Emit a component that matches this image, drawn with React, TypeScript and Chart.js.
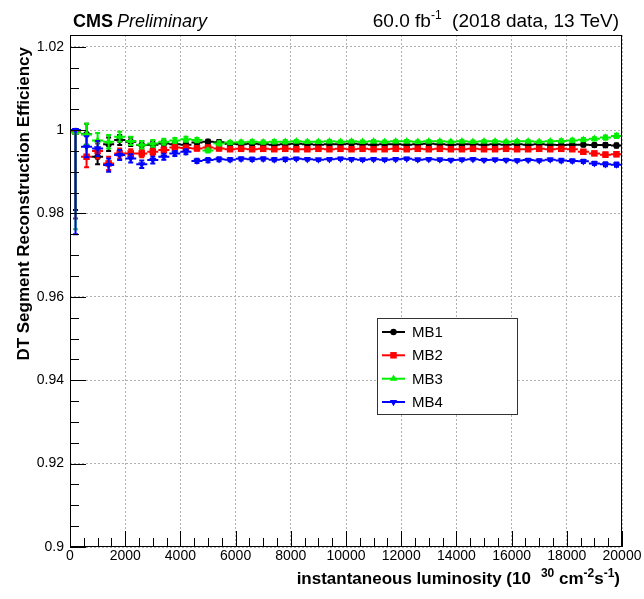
import React, { useEffect, useRef } from 'react';
import { Chart, registerables } from 'chart.js';

Chart.register(...registerables);

const FONT = '"Liberation Sans", Arial, Helvetica, sans-serif';

// Bin centres of instantaneous luminosity (10^30 cm^-2 s^-1)
const lumi = [
  200, 600, 1000, 1400, 1800, 2200, 2600, 3000, 3400, 3800,
  4200, 4600, 5000, 5400, 5800, 6200, 6600, 7000, 7400, 7800,
  8200, 8600, 9000, 9400, 9800, 10200, 10600, 11000, 11400, 11800,
  12200, 12600, 13000, 13400, 13800, 14200, 14600, 15000, 15400, 15800,
  16200, 16600, 17000, 17400, 17800, 18200, 18600, 19000, 19400, 19800,
];
const binHalfWidth = 200;

const mb1 = [
  0.9998, 0.9990, 0.9936, 0.9966, 0.9976, 0.9972, 0.9964, 0.9965, 0.9968, 0.9966,
  0.9965, 0.9970, 0.9972, 0.9971, 0.9967, 0.9966, 0.9967, 0.9966, 0.9965, 0.9966,
  0.9967, 0.9966, 0.9965, 0.9966, 0.9966, 0.9967, 0.9966, 0.9965, 0.9966, 0.9966,
  0.9965, 0.9966, 0.9967, 0.9966, 0.9965, 0.9966, 0.9966, 0.9965, 0.9966, 0.9965,
  0.9966, 0.9965, 0.9966, 0.9965, 0.9964, 0.9965, 0.9965, 0.9964, 0.9964, 0.9963,
];
const mb2 = [
  0.9996, 0.9936, 0.9950, 0.9920, 0.9944, 0.9944, 0.9944, 0.9948, 0.9952, 0.9958,
  0.9957, 0.9956, 0.9958, 0.9956, 0.9954, 0.9955, 0.9954, 0.9955, 0.9954, 0.9955,
  0.9954, 0.9954, 0.9955, 0.9954, 0.9955, 0.9954, 0.9955, 0.9954, 0.9954, 0.9955,
  0.9954, 0.9955, 0.9954, 0.9955, 0.9954, 0.9954, 0.9955, 0.9954, 0.9954, 0.9955,
  0.9954, 0.9954, 0.9955, 0.9954, 0.9955, 0.9954, 0.9948, 0.9944, 0.9941, 0.9942,
];
const mb3 = [
  0.9994, 0.9990, 0.9975, 0.9972, 0.9984, 0.9974, 0.9965, 0.9968, 0.9972, 0.9975,
  0.9978, 0.9976, 0.9951, 0.9968, 0.9970, 0.9971, 0.9972, 0.9971, 0.9972, 0.9972,
  0.9973, 0.9972, 0.9972, 0.9973, 0.9972, 0.9973, 0.9972, 0.9973, 0.9972, 0.9973,
  0.9973, 0.9972, 0.9973, 0.9973, 0.9972, 0.9973, 0.9972, 0.9973, 0.9973, 0.9972,
  0.9973, 0.9973, 0.9972, 0.9973, 0.9974, 0.9975, 0.9977, 0.9979, 0.9982, 0.9986,
];
const mb4 = [
  1.0000, 0.9960, 0.9956, 0.9916, 0.9940, 0.9932, 0.9918, 0.9928, 0.9936, 0.9944,
  0.9948, 0.9926, 0.9928, 0.9930, 0.9929, 0.9931, 0.9930, 0.9931, 0.9929, 0.9930,
  0.9931, 0.9930, 0.9929, 0.9930, 0.9931, 0.9930, 0.9929, 0.9930, 0.9929, 0.9930,
  0.9931, 0.9929, 0.9930, 0.9929, 0.9928, 0.9929, 0.9930, 0.9928, 0.9929, 0.9928,
  0.9927, 0.9928, 0.9927, 0.9929, 0.9927, 0.9926, 0.9925, 0.9920, 0.9918, 0.9917,
];

// statistical uncertainty per bin (symmetric, shared)
const errors = [
  0, 0.0025, 0.0018, 0.0016, 0.0012, 0.0010, 0.0009, 0.0008, 0.0007, 0.0006,
  0.0006, 0.0005, 0.0005, 0.0005, 0.0004, 0.0004, 0.0004, 0.0004, 0.0004, 0.0004,
  0.0003, 0.0003, 0.0003, 0.0003, 0.0003, 0.0003, 0.0003, 0.0003, 0.0003, 0.0003,
  0.0003, 0.0003, 0.0003, 0.0003, 0.0003, 0.0003, 0.0003, 0.0003, 0.0003, 0.0003,
  0.0003, 0.0003, 0.0003, 0.0003, 0.0004, 0.0004, 0.0004, 0.0004, 0.0005, 0.0005,
];
// lower uncertainty of the first (low-statistics) bin for MB1..MB4
const firstBinErrLow = [0.019, 0.0208, 0.0232, 0.025];

const seriesLabels = ['MB1', 'MB2', 'MB3', 'MB4'];
const seriesValues = [mb1, mb2, mb3, mb4];
const seriesColors = ['#000000', '#ff0000', '#00ee00', '#0000ff'];
const seriesStyles = ['circle', 'rect', 'triangle', 'triangle'];
const seriesRotations = [0, 0, 0, 180];
const seriesRadius = [3.2, 4.6, 4.2, 4.2];

const xTickValues = [0, 2000, 4000, 6000, 8000, 10000, 12000, 14000, 16000, 18000, 20000];
const yTickValues = [0.9, 0.92, 0.94, 0.96, 0.98, 1.0, 1.02];

const Y_MIN = 0.9;
const Y_MAX = 1.0228;

function fmtY(v: number) {
  return String(Number(v.toFixed(3)));
}

const errorBarPlugin = {
  id: 'errorBars',
  beforeDatasetDraw(chart: any, args: any) {
    const k = args.index;
    const { ctx, chartArea: a, scales } = chart;
    const xs = scales.x;
    const ys = scales.y;
    const vals = seriesValues[k];
    ctx.save();
    ctx.beginPath();
    ctx.rect(a.left, a.top, a.right - a.left, a.bottom - a.top);
    ctx.clip();
    ctx.strokeStyle = seriesColors[k];
    ctx.lineWidth = 2;
    ctx.beginPath();
    for (let i = 0; i < lumi.length; i++) {
      const x = xs.getPixelForValue(lumi[i]);
      const y = ys.getPixelForValue(vals[i]);
      const x0 = xs.getPixelForValue(lumi[i] - binHalfWidth);
      const x1 = xs.getPixelForValue(lumi[i] + binHalfWidth);
      const lo = i === 0 ? firstBinErrLow[k] : errors[i];
      const hi = errors[i];
      const yLo = ys.getPixelForValue(vals[i] - lo);
      const yHi = ys.getPixelForValue(vals[i] + hi);
      ctx.moveTo(x0, y);
      ctx.lineTo(x1, y);
      ctx.moveTo(x, yHi);
      ctx.lineTo(x, yLo);
      if (yLo - yHi > 2) {
        ctx.moveTo(x - 2.5, yLo);
        ctx.lineTo(x + 2.5, yLo);
        if (hi > 0) {
          ctx.moveTo(x - 2.5, yHi);
          ctx.lineTo(x + 2.5, yHi);
        }
      }
    }
    ctx.stroke();
    ctx.restore();
  },
};

function drawMarker(ctx: CanvasRenderingContext2D, style: string, rot: number, x: number, y: number, r: number) {
  ctx.beginPath();
  if (style === 'circle') {
    ctx.arc(x, y, r, 0, Math.PI * 2);
  } else if (style === 'rect') {
    const s = r * Math.SQRT1_2;
    ctx.rect(x - s, y - s, 2 * s, 2 * s);
  } else {
    const base = rot === 180 ? Math.PI / 2 : -Math.PI / 2;
    for (let j = 0; j < 3; j++) {
      const ang = base + (j * 2 * Math.PI) / 3;
      const px = x + Math.cos(ang) * r;
      const py = y + Math.sin(ang) * r;
      if (j === 0) ctx.moveTo(px, py);
      else ctx.lineTo(px, py);
    }
    ctx.closePath();
  }
  ctx.fill();
}

function drawSegments(ctx: CanvasRenderingContext2D, segs: { t: string; f: string; r: number }[], xRight: number, base: number) {
  let total = 0;
  for (const s of segs) {
    ctx.font = s.f;
    total += ctx.measureText(s.t).width;
  }
  let x = xRight - total;
  ctx.textAlign = 'left';
  ctx.textBaseline = 'alphabetic';
  for (const s of segs) {
    ctx.font = s.f;
    ctx.fillText(s.t, x, base - s.r);
    x += ctx.measureText(s.t).width;
  }
}

const decorPlugin = {
  id: 'decor',
  afterDraw(chart: any) {
    const { ctx, chartArea: a, scales } = chart;
    const xs = scales.x;
    const ys = scales.y;
    ctx.save();
    // frame
    ctx.strokeStyle = '#000';
    ctx.lineWidth = 1;
    ctx.strokeRect(Math.round(a.left) + 0.5, Math.round(a.top) + 0.5, Math.round(a.right - a.left) - 1, Math.round(a.bottom - a.top) - 1);
    // inward ticks
    ctx.beginPath();
    for (let k = 0; k <= 40; k++) {
      const v = k * 500;
      const px = Math.round(xs.getPixelForValue(v)) + 0.5;
      const len = k % 4 === 0 ? 16 : 9;
      ctx.moveTo(px, a.bottom);
      ctx.lineTo(px, a.bottom - len);
    }
    for (let k = 0; k <= 30; k++) {
      const v = Y_MIN + k * 0.005;
      if (v > Y_MAX + 1e-9) break;
      const py = Math.round(ys.getPixelForValue(v)) + 0.5;
      const len = k % 4 === 0 ? 16 : 9;
      ctx.moveTo(a.left, py);
      ctx.lineTo(a.left + len, py);
    }
    ctx.stroke();

    ctx.fillStyle = '#000';
    // header
    ctx.textBaseline = 'alphabetic';
    ctx.textAlign = 'left';
    ctx.font = `bold 18px ${FONT}`;
    ctx.fillText('CMS', 73, 27);
    const wCms = ctx.measureText('CMS').width;
    ctx.font = `italic 18px ${FONT}`;
    ctx.fillText('Preliminary', 73 + wCms + 4, 27);

    drawSegments(
      ctx,
      [
        { t: '60.0 fb', f: `19px ${FONT}`, r: 0 },
        { t: '-1', f: `12px ${FONT}`, r: 8 },
        { t: '  (2018 data, 13 TeV)', f: `19px ${FONT}`, r: 0 },
      ],
      619,
      27
    );

    // x axis title
    drawSegments(
      ctx,
      [
        { t: 'instantaneous luminosity (10', f: `bold 17px ${FONT}`, r: 0 },
        { t: '   ', f: `bold 12px ${FONT}`, r: 0 },
        { t: '30', f: `bold 12px ${FONT}`, r: 7 },
        { t: ' cm', f: `bold 17px ${FONT}`, r: 0 },
        { t: '-2', f: `bold 12px ${FONT}`, r: 7 },
        { t: 's', f: `bold 17px ${FONT}`, r: 0 },
        { t: '-1', f: `bold 12px ${FONT}`, r: 7 },
        { t: ')', f: `bold 17px ${FONT}`, r: 0 },
      ],
      620,
      584
    );

    // y axis title
    ctx.save();
    ctx.translate(24, 47);
    ctx.rotate(-Math.PI / 2);
    ctx.font = `bold 17px ${FONT}`;
    ctx.textAlign = 'right';
    ctx.textBaseline = 'middle';
    ctx.fillText('DT Segment Reconstruction Efficiency', 0, 0);
    ctx.restore();

    // legend
    const lx = 377;
    const ly = 318;
    const lw = 140;
    const lh = 96;
    ctx.fillStyle = '#fff';
    ctx.fillRect(lx, ly, lw, lh);
    ctx.strokeStyle = '#333';
    ctx.lineWidth = 1;
    ctx.strokeRect(lx + 0.5, ly + 0.5, lw, lh);
    const rowY = [332, 355.3, 378.7, 402];
    for (let k = 0; k < seriesLabels.length; k++) {
      const y = rowY[k];
      ctx.strokeStyle = seriesColors[k];
      ctx.lineWidth = 2;
      ctx.beginPath();
      ctx.moveTo(382, y);
      ctx.lineTo(405, y);
      ctx.stroke();
      ctx.fillStyle = seriesColors[k];
      drawMarker(ctx, seriesStyles[k], seriesRotations[k], 393.5, y, seriesRadius[k]);
      ctx.fillStyle = '#000';
      ctx.font = `15px ${FONT}`;
      ctx.textAlign = 'left';
      ctx.textBaseline = 'middle';
      ctx.fillText(seriesLabels[k], 412, y + 1);
    }
    ctx.restore();
  },
};

export default function App() {
  const ref = useRef<HTMLCanvasElement | null>(null);

  useEffect(() => {
    if (!ref.current) return;
    const chart = new Chart(ref.current, {
      type: 'scatter',
      data: {
        datasets: seriesLabels.map((label, k) => ({
          label,
          data: lumi.map((x, i) => ({ x, y: seriesValues[k][i] })),
          showLine: false,
          pointStyle: seriesStyles[k] as any,
          pointRotation: seriesRotations[k],
          pointRadius: seriesRadius[k],
          pointHoverRadius: seriesRadius[k],
          backgroundColor: seriesColors[k],
          borderColor: seriesColors[k],
          pointBorderWidth: 0,
          order: seriesLabels.length - k,
        })),
      },
      options: {
        responsive: false,
        animation: false,
        devicePixelRatio: 1,
        events: [],
        layout: { padding: { left: 0, right: 22, top: 35, bottom: 0 } },
        plugins: {
          legend: { display: false },
          tooltip: { enabled: false },
          title: { display: false },
        },
        scales: {
          x: {
            type: 'linear',
            min: 0,
            max: 20000,
            afterBuildTicks: (s: any) => {
              s.ticks = xTickValues.map((v) => ({ value: v }));
            },
            afterFit: (s: any) => {
              s.height = 52;
            },
            ticks: {
              callback: (v: any) => String(v),
              font: { family: FONT, size: 14 },
              color: '#000',
              padding: 1,
              maxRotation: 0,
              autoSkip: false,
            },
            grid: { color: '#b0b0b0', lineWidth: 1, drawTicks: false },
            border: { display: false, dash: [2, 2] },
          },
          y: {
            type: 'linear',
            min: Y_MIN,
            max: Y_MAX,
            afterBuildTicks: (s: any) => {
              s.ticks = yTickValues.map((v) => ({ value: v }));
            },
            afterFit: (s: any) => {
              s.width = 70;
            },
            ticks: {
              callback: (v: any) => fmtY(Number(v)),
              font: { family: FONT, size: 14 },
              color: '#000',
              padding: 6,
              autoSkip: false,
            },
            grid: { color: '#b0b0b0', lineWidth: 1, drawTicks: false },
            border: { display: false, dash: [2, 2] },
          },
        },
      },
      plugins: [errorBarPlugin, decorPlugin],
    } as any);
    return () => chart.destroy();
  }, []);

  return (
    <div style={{ position: 'absolute', left: 0, top: 0, width: 644, height: 599, background: '#fff' }}>
      <canvas ref={ref} width={644} height={599} style={{ display: 'block', width: 644, height: 599 }} />
    </div>
  );
}
